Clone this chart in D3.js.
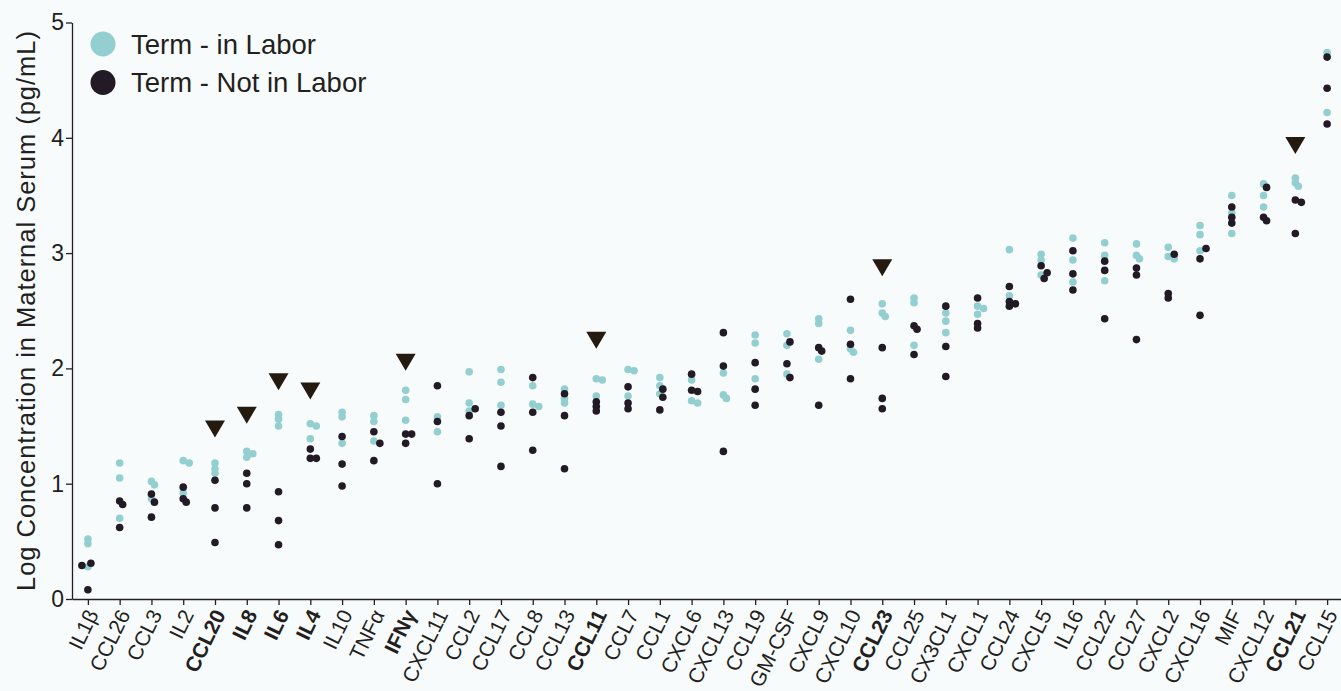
<!DOCTYPE html>
<html>
<head>
<meta charset="utf-8">
<script src="https://cdn.jsdelivr.net/npm/d3@7"></script>
<style>
  html, body { margin: 0; padding: 0; background: #f8fbfc; }
  svg { display: block; font-family: "Liberation Sans", Arial, Helvetica, sans-serif; }
</style>
</head>
<body>
<svg id="chart" width="1341" height="691"></svg>
<script>
// Cytokines / chemokines, ordered by overall serum level
const categories = ["IL1β","CCL26","CCL3","IL2","CCL20","IL8","IL6","IL4","IL10","TNFα","IFNγ",
  "CXCL11","CCL2","CCL17","CCL8","CCL13","CCL11","CCL7","CCL1","CXCL6","CXCL13","CCL19","GM-CSF",
  "CXCL9","CXCL10","CCL23","CCL25","CX3CL1","CXCL1","CCL24","CXCL5","IL16","CCL22","CCL27","CXCL2",
  "CXCL16","MIF","CXCL12","CCL21","CCL15"];

// Analytes that differ between groups (bold label + arrowhead)
const highlighted = ["CCL20","IL8","IL6","IL4","IFNγ","CCL11","CCL23","CCL21"];
const markerValues = [1.40, 1.52, 1.81, 1.73, 1.98, 2.17, 2.80, 3.86];

// Log10 concentration (pg/mL), one list per analyte, same order as categories
const inLabor = [
  [0.52, 0.48, 0.28], [1.18, 1.05, 0.70], [1.02, 0.99, 0.87], [1.20, 1.18, 0.92],
  [1.18, 1.13, 1.09], [1.28, 1.26, 1.23], [1.60, 1.56, 1.50], [1.52, 1.50, 1.39],
  [1.62, 1.58, 1.35], [1.59, 1.54, 1.37], [1.81, 1.73, 1.55], [1.58, 1.45],
  [1.97, 1.70, 1.63], [1.99, 1.88, 1.68], [1.85, 1.69, 1.67], [1.82, 1.74, 1.70],
  [1.91, 1.90, 1.76], [1.99, 1.98, 1.76], [1.92, 1.85, 1.78], [1.90, 1.72, 1.70],
  [1.96, 1.77, 1.74], [2.29, 2.22, 1.91], [2.30, 2.20, 1.95], [2.43, 2.39, 2.08],
  [2.33, 2.17, 2.14], [2.56, 2.48, 2.45], [2.61, 2.57, 2.20], [2.48, 2.41, 2.31],
  [2.54, 2.52, 2.47], [3.03, 2.63], [2.99, 2.94, 2.81], [3.13, 2.94, 2.75],
  [3.09, 2.98, 2.76], [3.08, 2.98, 2.95], [3.05, 2.97, 2.95], [3.24, 3.16, 3.02],
  [3.50, 3.35, 3.17], [3.60, 3.50, 3.40], [3.65, 3.61, 3.58], [4.74, 4.22]
];
const notInLabor = [
  [0.31, 0.29, 0.08], [0.85, 0.82, 0.62], [0.91, 0.84, 0.71], [0.97, 0.87, 0.84],
  [1.03, 0.79, 0.49], [1.09, 1.00, 0.79], [0.93, 0.68, 0.47], [1.30, 1.22, 1.22],
  [1.41, 1.17, 0.98], [1.45, 1.35, 1.20], [1.43, 1.43, 1.35], [1.85, 1.54, 1.00],
  [1.65, 1.59, 1.39], [1.62, 1.50, 1.15], [1.92, 1.62, 1.29], [1.78, 1.59, 1.13],
  [1.71, 1.67, 1.63], [1.84, 1.70, 1.65], [1.82, 1.75, 1.64], [1.95, 1.81, 1.80],
  [2.31, 2.02, 1.28], [2.05, 1.82, 1.68], [2.23, 2.04, 1.92], [2.18, 2.15, 1.68],
  [2.60, 2.21, 1.91], [2.18, 1.74, 1.65], [2.37, 2.34, 2.12], [2.54, 2.19, 1.93],
  [2.61, 2.39, 2.35], [2.71, 2.58, 2.56, 2.54], [2.89, 2.83, 2.78], [3.02, 2.82, 2.68],
  [2.93, 2.85, 2.43], [2.87, 2.81, 2.25], [2.99, 2.65, 2.61], [3.04, 2.95, 2.46],
  [3.40, 3.31, 3.26], [3.57, 3.31, 3.28], [3.46, 3.44, 3.17], [4.70, 4.43, 4.12]
];

const yTicks = [0, 1, 2, 3, 4, 5];
const seriesNames = ["Term - in Labor", "Term - Not in Labor"];
const seriesColors = ["#93cfd0", "#221a24"];
const ink = "#231f20";

const svg = d3.select("#chart");
const W = 1341, H = 691;
svg.append("rect").attr("width", W).attr("height", H).attr("fill", "#f8fbfc");

const x = d3.scalePoint().domain(categories).range([72, 1343]).padding(0.5);
const y = d3.scaleLinear().domain([0, 5]).range([599, 22.5]);

// Points: place each dot, nudging it sideways only when it would nearly cover a neighbour
const R = 3.8;
const points = [];
categories.forEach((c, i) => {
  const placed = [];
  [inLabor[i], notInLabor[i]].forEach((vals, s) => {
    vals.forEach(v => {
      const cy = y(v);
      const offsets = [0, 3, -3, 6, -6, 9, -9];
      let dx = 0;
      for (const o of offsets) {
        if (placed.every(p => Math.hypot(p.dx - o, p.cy - cy) >= 4.2)) { dx = o; break; }
      }
      placed.push({dx, cy});
      points.push({cat: c, value: v, series: s, dx});
    });
  });
});

const axisColor = g => {
  g.selectAll("path, line").attr("stroke", ink).attr("stroke-width", 1.3);
  g.selectAll("text").attr("fill", ink);
};

// Y axis
const gy = svg.append("g").attr("transform", "translate(72,0)")
  .call(d3.axisLeft(y).tickValues(yTicks).tickFormat(d3.format("d")).tickSize(6).tickSizeOuter(0).tickPadding(2))
  .call(axisColor);
gy.selectAll("text").attr("font-size", 23).attr("font-family", "Liberation Sans, Arial, sans-serif");

// X axis
const gx = svg.append("g").attr("transform", "translate(0,599)")
  .call(d3.axisBottom(x).tickSize(6).tickSizeOuter(0))
  .call(axisColor);
gx.selectAll("text")
  .attr("font-size", 21)
  .attr("font-family", "Liberation Sans, Arial, sans-serif")
  .attr("font-weight", d => highlighted.includes(d) ? "bold" : "normal")
  .attr("text-anchor", "end")
  .attr("x", 0).attr("y", 0).attr("dy", "0.35em")
  .attr("transform", "translate(4,12) rotate(-64)");

// Y axis title
svg.append("text")
  .attr("transform", `translate(35,311) rotate(-90)`)
  .attr("text-anchor", "middle")
  .attr("font-size", 25.5)
  .attr("textLength", 560)
  .attr("lengthAdjust", "spacing")
  .attr("fill", ink)
  .text("Log Concentration in Maternal Serum (pg/mL)");

// Dots (in-labor underneath, not-in-labor on top)
svg.append("g").selectAll("circle")
  .data(points.sort((a, b) => a.series - b.series))
  .join("circle")
  .attr("cx", d => x(d.cat) + d.dx)
  .attr("cy", d => y(d.value))
  .attr("r", R)
  .attr("fill", d => seriesColors[d.series]);

// Arrowheads over highlighted analytes
const tri = (cx, tip) => `M${cx - 10},${tip - 17}L${cx + 10},${tip - 17}L${cx},${tip}Z`;
svg.append("g").selectAll("path")
  .data(highlighted.map((c, i) => ({cat: c, value: markerValues[i]})))
  .join("path")
  .attr("d", d => tri(x(d.cat), y(d.value)))
  .attr("fill", "#241a10");

// Legend
const legend = svg.append("g");
seriesNames.forEach((name, i) => {
  const row = legend.append("g").attr("transform", `translate(103,${44 + i * 38.5})`);
  row.append("circle").attr("r", 12.5).attr("fill", seriesColors[i]);
  row.append("text").attr("x", 28).attr("y", 9.5)
    .attr("font-size", 27.5).attr("fill", ink).text(name);
});
</script>
</body>
</html>
